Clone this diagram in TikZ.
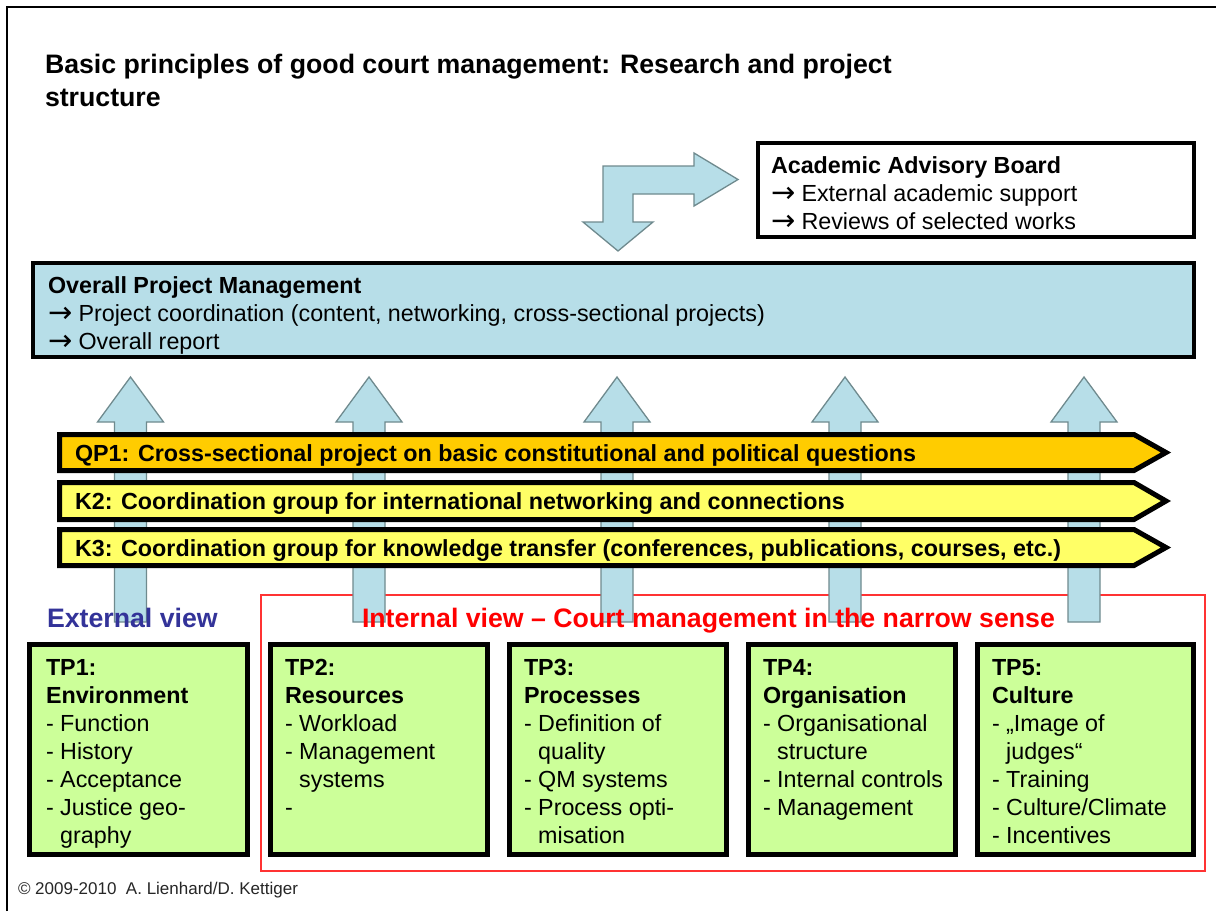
\documentclass[tikz,border=0pt]{standalone}
\usepackage{fontspec}
\setmainfont{Liberation Sans}
\newfontfamily\arrfont{DejaVu Sans}
\definecolor{lblue}{HTML}{B7DEE8}
\definecolor{agray}{HTML}{6F8A8E}
\definecolor{qporange}{HTML}{FFCC00}
\definecolor{kyellow}{HTML}{FFFF66}
\definecolor{tpgreen}{HTML}{CCFF99}
\definecolor{extblue}{HTML}{333399}
\definecolor{intred}{HTML}{FF0000}
\newcommand\myBody{\fontsize{23.3}{28}\selectfont}
\newcommand\myTitle{\fontsize{26.7}{33}\selectfont}
\newcommand\myArr{\makebox[30.5pt][l]{\raisebox{-1.5pt}{\arrfont\fontsize{29}{28}\selectfont →}}}
\begin{document}
\begin{tikzpicture}[x=1pt,y=-1pt,
  txt/.style={inner sep=0pt, outer sep=0pt, anchor=base west, font=\myBody},
  bluearrow/.style={fill=lblue, draw=agray, line width=1.3pt, line join=miter},
  bar/.style={draw=black, line width=5pt, line join=miter},
  tpbox/.style={draw=black, fill=tpgreen, line width=5pt, rectangle, inner sep=0pt, outer sep=0pt, anchor=north west, minimum height=210pt},
  bigbox/.style={draw=black, line width=4pt, rectangle, inner sep=0pt, outer sep=0pt, anchor=north west, minimum height=94pt}
]
\useasboundingbox (0,0) rectangle (1216,911);
\fill[white] (0,0) rectangle (1216,911);
% frame
\draw[line width=2pt] (7,911) -- (7,7) -- (1216,7);

% title
\node[txt, font=\myTitle] (title) at (45,73) {\parbox[t]{900pt}{\myTitle\bfseries Basic principles of good court management: Research and project\\structure}};

% academic advisory board
\node[bigbox, fill=white, minimum width=436pt] (aab) at (758,143) {};
\node[txt] (aabt) at (771,173) {\parbox[t]{420pt}{\myBody\raggedright\textbf{Academic Advisory Board}\\\myArr External academic support\\\myArr Reviews of selected works}};

% bent arrow
\draw[bluearrow] (618,251) -- (583,222) -- (603,222) -- (603,166) -- (694,166) -- (694,153)
  -- (738,179.5) -- (694,206) -- (694,194) -- (633,194) -- (633,222) -- (653,222) -- cycle;

% overall project management
\node[bigbox, fill=lblue, minimum width=1161pt] (opm) at (33,263) {};
\node[txt] (opmt) at (48,293) {\parbox[t]{1140pt}{\myBody\raggedright\textbf{Overall Project Management}\\\myArr Project coordination (content, networking, cross-sectional projects)\\\myArr Overall report}};

% internal view frame
\draw[intred!80, line width=1.2pt] (261,595) rectangle (1205,871);

% up arrows
\foreach \c in {130.5,369,617,845,1084}{
  \draw[bluearrow] (\c,377) -- (\c+33,422) -- (\c+16,422) -- (\c+16,622) -- (\c-16,622) -- (\c-16,422) -- (\c-33,422) -- cycle;
}

% bars
\draw[bar, fill=qporange] (59.5,434.5) -- (1134,434.5) -- (1166,452.5) -- (1134,470.5) -- (59.5,470.5) -- cycle;
\draw[bar, fill=kyellow] (59.5,482.5) -- (1134,482.5) -- (1166,501) -- (1134,519.5) -- (59.5,519.5) -- cycle;
\draw[bar, fill=kyellow] (59.5,529.5) -- (1134,529.5) -- (1166,547.5) -- (1134,565.5) -- (59.5,565.5) -- cycle;
\node[txt, font=\myBody\bfseries] (qp1) at (75,461) {QP1: Cross-sectional project on basic constitutional and political questions};
\node[txt, font=\myBody\bfseries] (k2) at (75,509) {K2: Coordination group for international networking and connections};
\node[txt, font=\myBody\bfseries] (k3) at (75,556) {K3: Coordination group for knowledge transfer (conferences, publications, courses, etc.)};

% view labels
\node[txt, font=\myTitle\bfseries, text=extblue] (ext) at (47,627) {External view};
\node[txt, font=\myTitle\bfseries, text=intred] (int) at (362,627) {Internal view – Court management in the narrow sense};

% TP boxes
\node[tpbox, minimum width=218pt] (tp1) at (29.5,644.5) {};
\node[tpbox, minimum width=217pt] (tp2) at (270.5,644.5) {};
\node[tpbox, minimum width=217pt] (tp3) at (509.5,644.5) {};
\node[tpbox, minimum width=207pt] (tp4) at (748.5,644.5) {};
\node[tpbox, minimum width=216pt] (tp5) at (977.5,644.5) {};

\node[txt] (tp1t) at (46,675) {\parbox[t]{200pt}{\myBody\raggedright\textbf{TP1:}\\\textbf{Environment}\\- Function\\- History\\- Acceptance\\- Justice geo-\\\phantom{- }graphy}};
\node[txt] (tp2t) at (285,675) {\parbox[t]{200pt}{\myBody\raggedright\textbf{TP2:}\\\textbf{Resources}\\- Workload\\- Management\\\phantom{- }systems\\-}};
\node[txt] (tp3t) at (524,675) {\parbox[t]{200pt}{\myBody\raggedright\textbf{TP3:}\\\textbf{Processes}\\- Definition of\\\phantom{- }quality\\- QM systems\\- Process opti-\\\phantom{- }misation}};
\node[txt] (tp4t) at (763,675) {\parbox[t]{200pt}{\myBody\raggedright\textbf{TP4:}\\\textbf{Organisation}\\- Organisational\\\phantom{- }structure\\- Internal controls\\- Management}};
\node[txt] (tp5t) at (992,675) {\parbox[t]{200pt}{\myBody\raggedright\textbf{TP5:}\\\textbf{Culture}\\- „Image of\\\phantom{- }judges“\\- Training\\- Culture/Climate\\- Incentives}};

% copyright
\node[txt, font=\fontsize{17}{20}\selectfont, text=black!85] (copy) at (18,894) {© 2009-2010\ \ A. Lienhard/D. Kettiger};
\end{tikzpicture}
\end{document}
